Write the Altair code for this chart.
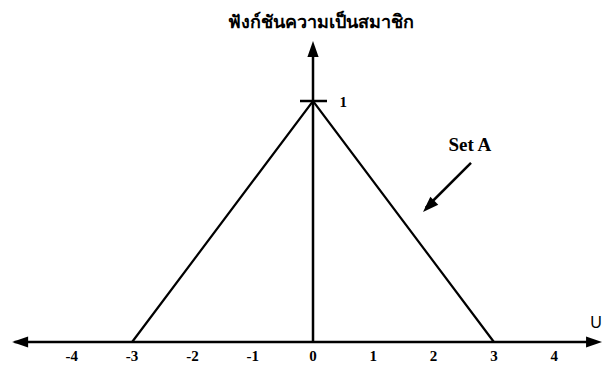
import altair as alt
import pandas as pd

# ---- data ----
tri_u = [-3, 0, 3]
tri_mu = [0, 1, 0]
tick_values = [-4, -3, -2, -1, 0, 1, 2, 3, 4]
tick_labels = ["-4", "-3", "-2", "-1", "0", "1", "2", "3", "4"]
title_text = ["ฟังก์ชันความเป็นสมาชิก"]
set_label = ["Set A"]
axis_label = ["U"]
peak_label = ["1"]

# segments: x, y, x2, y2
seg_x = [-4.95, 0.0, -0.216, 2.62]
seg_y = [0.0, 0.0, 1.0, 0.743]
seg_x2 = [4.70, 0.0, 0.232, 1.87]
seg_y2 = [0.0, 1.20, 1.0, 0.556]

# arrow heads: tip position and direction (degrees clockwise from up)
head_x = [-4.99, 4.793, 0.0, 1.824]
head_y = [0.0, 0.0, 1.249, 0.539]
head_ang = [270, 90, 0, 225]

X_MIN, X_MAX = -5.058, 4.809
Y_MIN, Y_MAX = -0.0871, 1.3859
xs = alt.Scale(domain=[X_MIN, X_MAX], nice=False, zero=False)
ys = alt.Scale(domain=[Y_MIN, Y_MAX], nice=False, zero=False)

tri_df = pd.DataFrame({"u": tri_u, "mu": tri_mu, "o": range(len(tri_u))})
seg_df = pd.DataFrame({"x": seg_x, "y": seg_y, "x2": seg_x2, "y2": seg_y2})
head_df = pd.DataFrame({"x": head_x, "y": head_y, "ang": head_ang})
tick_df = pd.DataFrame({"x": tick_values, "y": [-0.0788] * len(tick_values), "t": tick_labels})

tri = alt.Chart(tri_df).mark_line(color="black", strokeWidth=2.2).encode(
    x=alt.X("u:Q", scale=xs, axis=None),
    y=alt.Y("mu:Q", scale=ys, axis=None),
    order="o:Q",
)

segs = alt.Chart(seg_df).mark_rule(color="black", strokeWidth=2.5).encode(
    x=alt.X("x:Q", scale=xs, axis=None),
    y=alt.Y("y:Q", scale=ys, axis=None),
    x2="x2:Q",
    y2="y2:Q",
)

heads = alt.Chart(head_df).mark_point(
    shape="M0,0L0.7,2L-0.7,2Z", filled=True, color="black", opacity=1, size=256
).encode(
    x=alt.X("x:Q", scale=xs, axis=None),
    y=alt.Y("y:Q", scale=ys, axis=None),
    angle=alt.Angle("ang:Q", scale=None),
)

ticks = alt.Chart(tick_df).mark_text(
    font="Liberation Serif", fontSize=15, fontWeight="bold", color="black",
    baseline="alphabetic"
).encode(
    x=alt.X("x:Q", scale=xs, axis=None),
    y=alt.Y("y:Q", scale=ys, axis=None),
    text="t:N",
)

def label(texts, x, y, **kw):
    df = pd.DataFrame({"x": [x], "y": [y], "t": texts})
    return alt.Chart(df).mark_text(color="black", **kw).encode(
        x=alt.X("x:Q", scale=xs, axis=None),
        y=alt.Y("y:Q", scale=ys, axis=None),
        text="t:N",
    )

title = label(title_text, 0.133, 1.303, font="Noto Sans", fontSize=18, fontWeight="bold",
              baseline="alphabetic")
seta = label(set_label, 2.60, 0.817, font="Liberation Serif", fontSize=19, fontWeight="bold")
ulab = label(axis_label, 4.693, 0.079, font="Liberation Sans", fontSize=16)
one = label(peak_label, 0.50, 0.996, font="Liberation Serif", fontSize=15, fontWeight="bold")

chart = alt.layer(tri, segs, heads, ticks, title, seta, ulab, one).properties(
    width=595,
    height=355,
    autosize=alt.AutoSizeParams(type="none"),
    padding={"left": 0, "right": 0, "top": 0, "bottom": 0},
    background="white",
).configure_view(stroke=None)

chart.save("out.html", embed_options={"renderer": "svg", "actions": False})
